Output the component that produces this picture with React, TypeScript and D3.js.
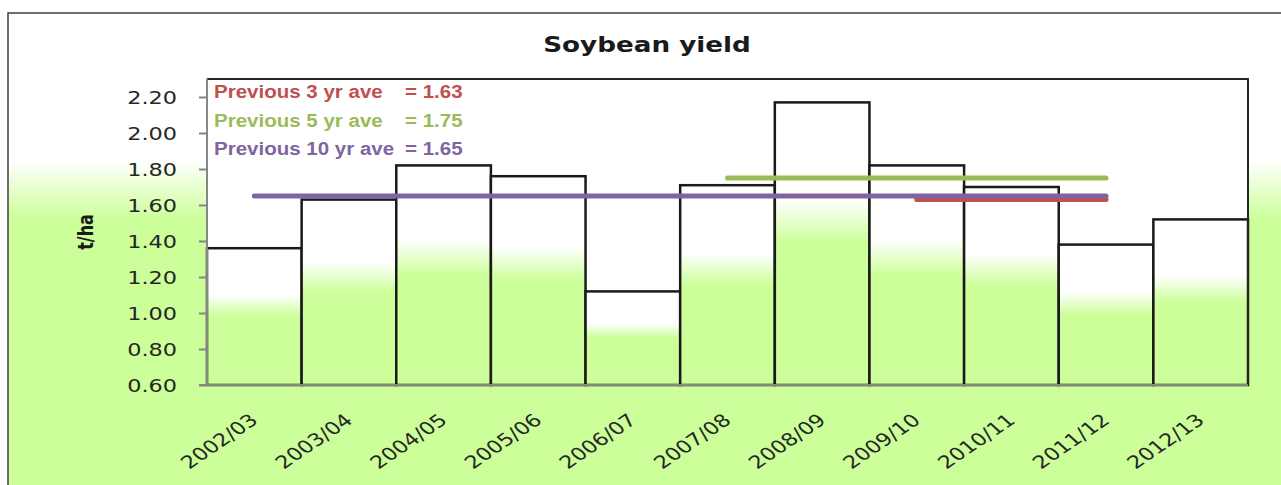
import React, { useEffect, useRef } from 'react';
import * as d3 from 'd3';

// soybean yield per season, t/ha
const categories = ['2002/03', '2003/04', '2004/05', '2005/06', '2006/07', '2007/08', '2008/09', '2009/10', '2010/11', '2011/12', '2012/13'];
const yields = [1.36, 1.63, 1.82, 1.76, 1.12, 1.71, 2.17, 1.82, 1.70, 1.38, 1.52];
const yTicks = [0.6, 0.8, 1.0, 1.2, 1.4, 1.6, 1.8, 2.0, 2.2];

// average lines
const avgLabels = ['Previous 3 yr ave', 'Previous 5 yr ave', 'Previous 10 yr ave'];
const avgValues = [1.63, 1.75, 1.65];
const avgFrom = ['2009/10', '2007/08', '2002/03'];
const avgTo = ['2011/12', '2011/12', '2011/12'];
const avgColors = ['#c0504d', '#9bbb59', '#8064a2'];

const W = 1281, H = 485;
const green = '#ccff99';
const stretch = 'scale(1.28,1)'; // the original picture is stretched sideways

function App() {
    const ref = useRef<SVGSVGElement>(null);

    useEffect(() => {
        const svg = d3.select(ref.current);
        svg.selectAll('*').remove();

        const defs = svg.append('defs');
        const bg = defs.append('linearGradient').attr('id', 'bgGrad')
            .attr('gradientUnits', 'userSpaceOnUse')
            .attr('x1', 0).attr('x2', 0).attr('y1', 160).attr('y2', 220);
        bg.append('stop').attr('offset', 0).attr('stop-color', '#ffffff');
        bg.append('stop').attr('offset', 1).attr('stop-color', green);

        const bg2 = defs.append('linearGradient').attr('id', 'barGrad')
            .attr('x1', 0).attr('x2', 0).attr('y1', 0).attr('y2', 1);
        bg2.append('stop').attr('offset', 0.34).attr('stop-color', '#ffffff');
        bg2.append('stop').attr('offset', 0.5).attr('stop-color', green);

        // chart area
        svg.append('rect')
            .attr('x', 8).attr('y', 13).attr('width', 1320).attr('height', 520)
            .attr('fill', 'url(#bgGrad)')
            .attr('stroke', '#404040').attr('stroke-width', 1.5);

        const left = 207, right = 1248, top = 79, bottom = 385;

        const x = d3.scaleBand().domain(categories).range([left, right]).padding(0);
        const y = d3.scaleLinear().domain([0.6, 2.3]).range([bottom, top]);

        // plot area
        svg.append('rect')
            .attr('x', left).attr('y', top)
            .attr('width', right - left).attr('height', bottom - top)
            .attr('fill', '#ffffff');

        svg.append('g').selectAll('rect')
            .data(yields)
            .enter().append('rect')
            .attr('x', (d, i) => x(categories[i]))
            .attr('y', d => y(d))
            .attr('width', x.bandwidth())
            .attr('height', d => bottom - y(d))
            .attr('fill', 'url(#barGrad)')
            .attr('stroke', '#1a1a1a')
            .attr('stroke-width', 2.5);

        // plot border top & right
        svg.append('path')
            .attr('d', `M${left},${top}H${right}V${bottom}`)
            .attr('fill', 'none')
            .attr('stroke', '#262626').attr('stroke-width', 2);

        // y axis
        const yAxis = svg.append('g')
            .attr('transform', `translate(${left},0)`)
            .call(d3.axisLeft(y).tickValues(yTicks).tickFormat(d3.format('.2f')).tickSize(8).tickSizeOuter(0));
        yAxis.select('.domain').attr('stroke', '#868686').attr('stroke-width', 2)
            .attr('d', `M0,${top}V${bottom}`);
        yAxis.selectAll('.tick line').attr('stroke', '#868686').attr('stroke-width', 2);
        yAxis.selectAll('.tick text')
            .attr('x', 0).attr('dy', null)
            .attr('transform', `translate(-30,6) ${stretch}`)
            .attr('text-anchor', 'end')
            .attr('fill', '#262626')
            .style('font-family', 'DejaVu Sans, Verdana, sans-serif')
            .style('font-size', '17.5px');

        // x axis
        const xAxis = svg.append('g')
            .attr('transform', `translate(0,${bottom})`)
            .call(d3.axisBottom(x).tickSize(0).tickSizeOuter(0));
        xAxis.select('.domain').attr('stroke', '#868686').attr('stroke-width', 2)
            .attr('d', `M${left - 8},0H${right}`);
        xAxis.selectAll('.tick text')
            .attr('x', 0).attr('y', 0).attr('dy', null)
            .attr('transform', `translate(5,37) ${stretch} rotate(-41)`)
            .attr('text-anchor', 'end')
            .attr('fill', '#262626')
            .style('font-family', 'DejaVu Sans, Verdana, sans-serif')
            .style('font-size', '17.5px');

        // average lines
        const half = x.bandwidth() / 2;
        svg.append('g').selectAll('line')
            .data(avgValues)
            .enter().append('line')
            .attr('x1', (d, i) => x(avgFrom[i]) + half)
            .attr('x2', (d, i) => x(avgTo[i]) + half)
            .attr('y1', d => y(d))
            .attr('y2', d => y(d))
            .attr('stroke', (d, i) => avgColors[i])
            .attr('stroke-width', 5)
            .attr('stroke-linecap', 'round');

        // legend text
        const leg = svg.append('g')
            .style('font-family', 'Liberation Sans, Arial, sans-serif')
            .style('font-weight', 'bold')
            .style('font-size', '19px');
        avgLabels.forEach((lab, i) => {
            const yy = 98 + i * 28.5;
            leg.append('text')
                .attr('transform', `translate(214,${yy}) scale(1.08,1)`)
                .attr('fill', avgColors[i])
                .text(lab);
            leg.append('text')
                .attr('transform', `translate(405,${yy}) scale(1.08,1)`)
                .attr('fill', avgColors[i])
                .text(`= ${d3.format('.2f')(avgValues[i])}`);
        });

        // title
        svg.append('text')
            .attr('transform', `translate(647,52) ${stretch}`)
            .attr('text-anchor', 'middle')
            .attr('fill', '#1a1a1a')
            .style('font-family', 'DejaVu Sans, Verdana, sans-serif')
            .style('font-weight', 'bold')
            .style('font-size', '20.5px')
            .text('Soybean yield');

        // y label
        svg.append('text')
            .attr('transform', `translate(93,232) ${stretch} rotate(-90)`)
            .attr('text-anchor', 'middle')
            .attr('fill', '#1a1a1a')
            .style('font-family', 'DejaVu Sans, Verdana, sans-serif')
            .style('font-weight', 'bold')
            .style('font-size', '16px')
            .text('t/ha');
    }, []);

    return (
        <svg ref={ref} width={W} height={H}
            style={{ position: 'absolute', left: 0, top: 0, display: 'block', background: '#ffffff' }} />
    );
}

export default App;
